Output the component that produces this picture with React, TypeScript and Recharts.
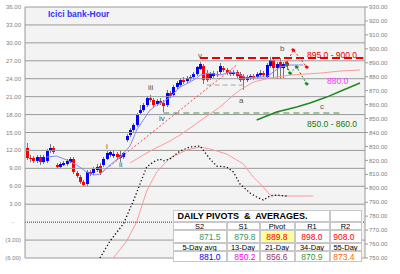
import {
  Bar,
  CartesianGrid,
  ComposedChart,
  Line,
  ReferenceLine,
  XAxis,
  YAxis,
} from "recharts";

// hourly candles, price scale (right axis)
const opens = [828.9, 821.7, 821.7, 819.6, 822.4, 818.8, 819.6, 826.7, 828.9, 816.7, 815.3, 816.7, 817.4, 818.8, 821.0, 811.0, 808.1, 804.5, 803.1, 811.7, 811.0, 813.1, 816.0, 816.7, 821.0, 823.9, 823.1, 824.6, 823.9, 822.4, 834.6, 838.2, 841.8, 845.4, 854.0, 856.1, 859.7, 864.7, 863.3, 860.4, 862.6, 861.2, 859.7, 868.3, 866.9, 872.6, 874.1, 877.6, 876.9, 879.8, 879.8, 881.9, 885.5, 887.7, 882.6, 879.1, 880.5, 881.9, 883.4, 886.2, 884.8, 883.4, 881.9, 883.4, 881.9, 880.5, 877.6, 879.1, 880.5, 879.8, 881.2, 882.6, 879.8, 887.7, 892.0, 886.2, 890.5, 886.2, 889.8];
const highs = [832.5, 823.9, 823.1, 823.9, 823.9, 823.9, 828.2, 831.7, 830.3, 818.1, 818.8, 819.6, 821.0, 822.4, 822.4, 812.4, 809.5, 805.9, 813.1, 813.1, 815.3, 817.4, 818.1, 822.4, 826.7, 827.4, 826.7, 826.0, 827.4, 826.0, 838.9, 843.2, 846.8, 854.0, 859.7, 861.2, 866.2, 867.0, 864.7, 864.0, 864.7, 863.3, 870.5, 869.8, 874.1, 876.9, 879.1, 879.8, 880.5, 881.2, 883.4, 887.7, 890.5, 889.1, 884.8, 883.4, 884.1, 884.1, 889.8, 887.7, 886.2, 884.8, 884.8, 884.8, 883.4, 881.9, 881.2, 881.9, 881.9, 883.4, 884.8, 884.1, 889.8, 894.2, 894.2, 890.5, 893.4, 890.5, 891.3];
const lows = [820.3, 818.8, 818.1, 818.1, 816.7, 817.4, 818.1, 825.3, 824.6, 813.8, 814.5, 816.0, 816.0, 818.1, 810.2, 807.4, 803.1, 800.9, 801.6, 808.8, 809.5, 811.7, 809.5, 815.3, 820.3, 822.4, 821.7, 820.3, 818.8, 821.0, 833.2, 836.8, 840.4, 843.9, 852.6, 854.7, 858.2, 861.9, 857.5, 859.0, 859.7, 854.7, 858.2, 864.7, 865.4, 871.2, 872.6, 874.8, 875.5, 876.9, 878.4, 880.5, 884.8, 874.8, 876.2, 877.6, 879.1, 879.8, 881.9, 883.4, 881.2, 880.5, 880.5, 879.1, 876.2, 870.5, 876.2, 877.6, 877.6, 878.4, 879.8, 879.8, 878.4, 886.2, 879.8, 878.4, 878.4, 879.1, 884.8];
const closes = [821.7, 821.3, 819.6, 822.4, 818.8, 822.4, 826.7, 828.9, 826.0, 815.3, 817.4, 818.1, 819.6, 821.0, 811.7, 808.8, 804.5, 802.4, 811.7, 810.2, 813.8, 815.3, 811.0, 821.0, 825.3, 826.0, 824.6, 822.4, 821.7, 825.3, 837.5, 841.8, 845.4, 852.6, 856.1, 859.7, 864.7, 863.3, 859.7, 862.6, 861.2, 859.0, 868.3, 866.2, 872.6, 875.5, 877.6, 876.2, 879.1, 878.4, 881.9, 887.0, 889.1, 877.6, 877.6, 881.9, 882.6, 881.6, 887.7, 884.8, 882.6, 881.9, 883.4, 880.5, 877.6, 877.6, 879.8, 880.5, 879.1, 881.9, 882.6, 881.2, 888.4, 892.0, 886.2, 889.1, 886.2, 889.1, 887.7];

// [bar index, value]
const fastAvg: [number, number][] = [[6, 822.4], [9, 823.1], [12, 820.3], [15, 816.7], [18, 811.7], [20, 809.5], [22, 810.2], [25, 816.7], [28, 822.4], [31, 830.3], [33, 841.8], [35, 849.0], [37, 856.1], [39, 859.7], [41, 861.9], [43, 865.4], [46, 872.6], [49, 876.2], [51, 879.1], [52, 881.2], [55, 882.6], [58, 881.2], [61, 883.4], [63, 882.6], [66, 879.1], [69, 879.8], [72, 879.8], [74, 883.4], [76, 887.0], [79, 888.4], [83, 888.4]];
const slowAvg: [number, number][] = [[31, 818.1], [34, 822.4], [37, 826.7], [40, 830.3], [43, 833.9], [46, 838.2], [49, 843.2], [52, 848.3], [55, 853.3], [58, 858.3], [61, 864.7], [64, 870.5], [68, 876.2], [73, 879.1], [79, 881.2], [88, 882.6], [94, 884.1], [100, 884.8]];
const trendLine: [number, number][] = [[22, 810.2], [63, 888.5]];
const resistance: [number, number][] = [[52, 893.4], [101, 893.4]];
const support: [number, number][] = [[41, 854.0], [95, 854.0]];
const waveALevel: [number, number][] = [[54, 874.1], [65, 874.1]];
const waveC: [number, number][] = [[69, 849.0], [75, 854.7], [81, 858.3], [85, 861.2], [90, 865.4], [95, 870.5], [100, 875.5]];
const bullPath: [number, number][] = [[78, 889.8], [80, 899.2], [84, 887.0]];
const bearPath: [number, number][] = [[78, 888.4], [79, 882.6], [81, 887.0], [84, 875.0]];
// oscillator (left axis)
const oscLine: [number, number][] = [[22, -6.0], [25, -3.16], [29, -0.31], [32, 3.54], [34, 6.38], [36, 9.23], [38, 10.06], [40, 10.57], [41, 10.23], [43, 10.57], [46, 11.9], [49, 12.57], [52, 12.74], [55, 10.57], [57, 9.39], [60, 9.23], [62, 8.39], [64, 6.38], [67, 4.88], [69, 4.21], [71, 3.7], [73, 4.37], [75, 4.54], [78, 4.37]];
const oscSignal: [number, number][] = [[26, -6.0], [30, -3.16], [33, 0.02], [36, 5.21], [39, 8.39], [43, 10.73], [48, 12.07], [52, 12.57], [55, 12.24], [60, 11.4], [65, 9.73], [68, 7.55], [71, 5.88], [73, 4.54], [78, 4.37], [86, 4.37]];

const leftTicks = [-6, -3, 0, 3, 6, 9, 12, 15, 18, 21, 24, 27, 30, 33, 36];
const rightTicks = [750, 760, 770, 780, 790, 800, 810, 820, 830, 840, 850, 860, 870, 880, 890, 900, 910, 920, 930];

const pivotNames = ["S2", "S1", "Pivot", "R1", "R2"];
const pivotValues = [871.5, 879.8, 889.8, 898.0, 908.0];
const avgNames = ["5-Day avg", "13-Day", "21-Day", "34-Day", "55-Day"];
const avgValues = [881.0, 850.2, 856.6, 870.9, 873.4];

const SLOTS = 102;
const FONT = '"Liberation Sans", Arial, sans-serif';

const rows: Record<string, any>[] = Array.from({ length: SLOTS }, (_, i) => ({ i }));
opens.forEach((o, i) => {
  rows[i].open = o;
  rows[i].high = highs[i];
  rows[i].low = lows[i];
  rows[i].close = closes[i];
  rows[i].range = [lows[i], highs[i]];
});
const put = (key: string, pts: [number, number][]) =>
  pts.forEach(([i, v]) => (rows[i][key] = v));
put("fast", fastAvg);
put("slow", slowAvg);
put("trend", trendLine);
put("res", resistance);
put("sup", support);
put("waveA", waveALevel);
put("waveC", waveC);
put("bull", bullPath);
put("bear", bearPath);
put("osc", oscLine);
put("sig", oscSignal);

function Candle(props: any) {
  const { x, y, width, height, payload } = props;
  if (payload == null || payload.open == null) return null;
  const { open, close, high, low } = payload;
  const span = high - low || 1;
  const py = (v: number) => y + ((high - v) / span) * height;
  const cx = Math.round(x + width / 2) + 0.5;
  const top = py(Math.max(open, close));
  const bot = py(Math.min(open, close));
  return (
    <g>
      <line x1={cx} x2={cx} y1={y} y2={y + height} stroke="#777" strokeWidth={1} />
      <rect
        x={cx - 1.5}
        y={top}
        width={3}
        height={Math.max(bot - top, 1)}
        fill={close >= open ? "#0000ff" : "#ff0000"}
      />
    </g>
  );
}

function LeftTick(props: any) {
  const { x, y, payload } = props;
  const v = payload.value;
  const label = v === 0 ? "-" : v < 0 ? `(${(-v).toFixed(2)})` : v.toFixed(2);
  return (
    <text x={v === 0 ? x - 7 : x} y={y} dy={2} textAnchor="end" fontSize={6} fill="#808080" fontFamily={FONT}>
      {label}
    </text>
  );
}

function Tag({ x, y, text, color = "#555", size = 8, bold = false }: any) {
  return (
    <div
      style={{
        position: "absolute",
        left: x,
        top: y,
        transform: "translateY(-50%)",
        fontSize: size,
        fontWeight: bold ? "bold" : "normal",
        color,
        whiteSpace: "pre",
        lineHeight: 1,
      }}
    >
      {text}
    </div>
  );
}

const colX = [173, 227, 260, 295, 330, 362];
const rowY = [210, 222, 230, 243, 251, 262];
const pivotColors = ["#339966", "#339966", "#ff0000", "#ff0000", "#ff0000"];
const avgColors = ["#0000ff", "#ff00ff", "#993366", "#339933", "#ff6600"];

function Cell({ c0, c1, r, children, align = "center", bg = "#fff", color = "#000", size = 7.5, bold = false, pad = 0 }: any) {
  return (
    <div
      style={{
        position: "absolute",
        left: colX[c0],
        top: rowY[r],
        width: colX[c1] - colX[c0],
        height: rowY[r + 1] - rowY[r],
        boxSizing: "border-box",
        border: "1px solid #c8c8c8",
        marginLeft: -0.5,
        background: bg,
        display: "flex",
        alignItems: "center",
        justifyContent: align === "right" ? "flex-end" : align === "left" ? "flex-start" : "center",
        paddingRight: align === "right" ? pad : 0,
        paddingLeft: align === "left" ? pad : 0,
        fontSize: size,
        fontWeight: bold ? "bold" : "normal",
        color,
        whiteSpace: "pre",
      }}
    >
      {children}
    </div>
  );
}

function PivotTable() {
  const valuePad = [5, 3, 6, 6, 6];
  return (
    <>
      <Cell c0={0} c1={4} r={0} align="left" pad={4} size={9} bold>
        {"DAILY PIVOTS  &  AVERAGES."}
      </Cell>
      <Cell c0={4} c1={5} r={0} />
      {pivotNames.map((n, k) => (
        <Cell key={"pn" + k} c0={k} c1={k + 1} r={1}>{n}</Cell>
      ))}
      {pivotValues.map((v, k) => (
        <Cell key={"pv" + k} c0={k} c1={k + 1} r={2} align="right" pad={valuePad[k]} size={8.5}
          color={pivotColors[k]} bg={k === 2 ? "#ffff99" : "#fff"}>
          {v.toFixed(1)}
        </Cell>
      ))}
      {avgNames.map((n, k) => (
        <Cell key={"an" + k} c0={k} c1={k + 1} r={3}>{n}</Cell>
      ))}
      {avgValues.map((v, k) => (
        <Cell key={"av" + k} c0={k} c1={k + 1} r={4} align="right" pad={valuePad[k]} size={8.5} color={avgColors[k]}>
          {v.toFixed(1)}
        </Cell>
      ))}
    </>
  );
}

export default function App() {
  return (
    <div
      style={{
        position: "absolute",
        left: 0,
        top: 0,
        width: 400,
        height: 274,
        background: "#fff",
        fontFamily: FONT,
      }}
    >
      <ComposedChart
        width={400}
        height={274}
        data={rows}
        margin={{ top: 7, right: 0, bottom: 16, left: 0 }}
        barSize={3}
      >
        <CartesianGrid yAxisId="left" horizontal={false} vertical={false} fill="#f3f3f3" />
        <XAxis dataKey="i" type="category" hide />
        <YAxis
          yAxisId="left"
          domain={[-6, 36]}
          ticks={leftTicks}
          width={25}
          interval={0}
          tick={<LeftTick />}
          tickLine={false}
          tickMargin={2}
          tickSize={2}
          axisLine={{ stroke: "#999" }}
          allowDataOverflow
        />
        <YAxis
          yAxisId="right"
          orientation="right"
          domain={[750, 930]}
          ticks={rightTicks}
          width={35}
          interval={0}
          tick={{ fontSize: 6, fill: "#808080", fontFamily: FONT }}
          tickFormatter={(v: number) => v.toFixed(2)}
          tickSize={3}
          tickMargin={1}
          tickLine={{ stroke: "#999" }}
          axisLine={{ stroke: "#999" }}
          allowDataOverflow
        />
        {leftTicks
          .filter((t) => t !== 0)
          .map((t) => (
            <ReferenceLine key={t} yAxisId="left" y={t} stroke="#9a9a9a" strokeWidth={1} />
          ))}
        <ReferenceLine yAxisId="left" y={0} stroke="#333" strokeDasharray="1 1" />

        <Line yAxisId="right" dataKey="sup" stroke="#a0c0a0" strokeWidth={2} strokeDasharray="6 4" dot={false} connectNulls isAnimationActive={false} />
        <Line yAxisId="right" dataKey="waveA" stroke="#c0c0c0" strokeWidth={1.5} strokeDasharray="5 3" dot={false} connectNulls isAnimationActive={false} />
        <Line yAxisId="left" dataKey="sig" stroke="#ff9999" strokeWidth={1} dot={false} connectNulls isAnimationActive={false} />
        <Line yAxisId="left" dataKey="osc" stroke="#111" strokeWidth={1.3} strokeDasharray="1.3 2.2" dot={false} connectNulls isAnimationActive={false} />
        <Line yAxisId="right" dataKey="slow" stroke="#ff9999" strokeWidth={1} dot={false} connectNulls isAnimationActive={false} />
        <Line yAxisId="right" dataKey="trend" stroke="#ff4444" strokeWidth={1} strokeDasharray="2 2" dot={false} connectNulls isAnimationActive={false} />
        <Line yAxisId="right" dataKey="waveC" stroke="#228822" strokeWidth={1.5} dot={false} connectNulls isAnimationActive={false} />
        <Line yAxisId="right" dataKey="res" stroke="#ee0000" strokeWidth={2} strokeDasharray="8 4" dot={false} connectNulls isAnimationActive={false} />
        <Bar yAxisId="right" dataKey="range" shape={<Candle />} isAnimationActive={false} />
        <Line yAxisId="right" dataKey="fast" stroke="#8888ff" strokeWidth={1} dot={false} connectNulls isAnimationActive={false} />
        <Line yAxisId="right" dataKey="bull" stroke="#ff2222" strokeWidth={1} strokeDasharray="2 2"
          dot={{ r: 1.5, fill: "#ff0000", stroke: "#ff0000" }} connectNulls isAnimationActive={false} />
        <Line yAxisId="right" dataKey="bear" stroke="#228822" strokeWidth={1} strokeDasharray="2 2"
          dot={{ r: 1.5, fill: "#228822", stroke: "#228822" }} connectNulls isAnimationActive={false} />
      </ComposedChart>

      <Tag x={48} y={14} text="Icici bank-Hour" color="#3333ff" size={8.5} bold />
      <Tag x={106} y={147} text="i" />
      <Tag x={119} y={165} text="ii" />
      <Tag x={148} y={88} text="iii" />
      <Tag x={159} y={119} text="iv" />
      <Tag x={198} y={56} text="v" />
      <Tag x={239} y={101} text="a" />
      <Tag x={280} y={49} text="b" />
      <Tag x={320} y={107} text="c" />
      <Tag x={307} y={55} text="895.0 - 900.0" color="#ee0000" size={8.5} />
      <Tag x={327} y={81} text="880.0" color="#ff33ff" size={8.5} />
      <Tag x={307} y={124} text="850.0 - 860.0" color="#117711" size={8.5} />

      <PivotTable />
    </div>
  );
}
